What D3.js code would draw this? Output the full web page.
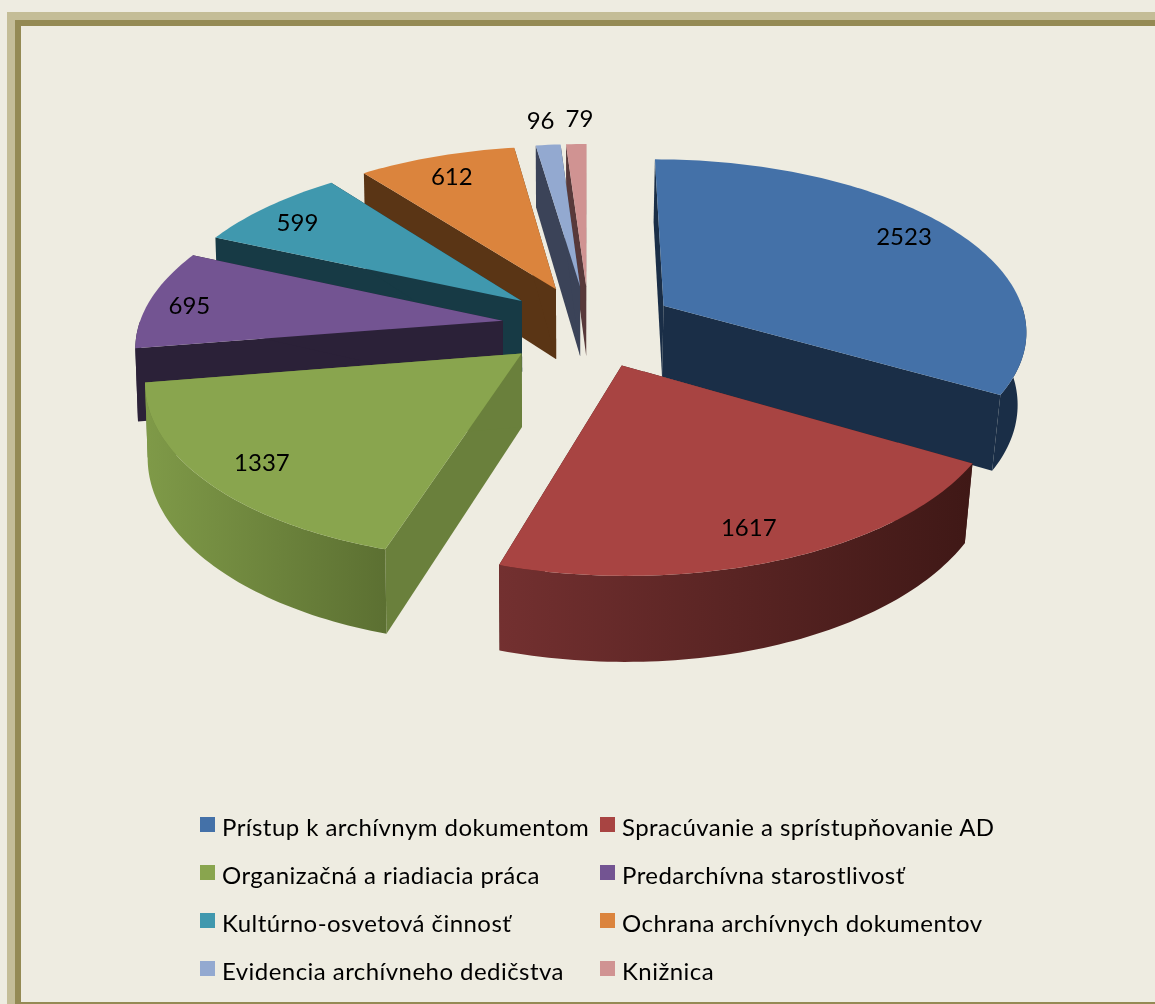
<!DOCTYPE html>
<html>
<head>
<meta charset="utf-8">
<script src="https://cdn.jsdelivr.net/npm/d3@7"></script>
<style>
  html, body { margin: 0; padding: 0; background: #eeece1; }
  svg { display: block; font-family: Lato, "Open Sans", sans-serif; }
  .soft { filter: blur(0.6px); }
</style>
</head>
<body>
<div id="chart"></div>
<script>
const categories = [
  "Prístup k archívnym dokumentom",
  "Spracúvanie a sprístupňovanie AD",
  "Organizačná a riadiacia práca",
  "Predarchívna starostlivosť",
  "Kultúrno-osvetová činnosť",
  "Ochrana archívnych dokumentov",
  "Evidencia archívneho dedičstva",
  "Knižnica"
];
const values = [2523, 1617, 1337, 695, 599, 612, 96, 79];
const topColors = ["#4471a8", "#a84442", "#89a54e", "#735492", "#4098ae", "#db843d", "#93a9d0", "#d09392"];
const cutColors = ["#1a2e47", "#431a18", "#6a803c", "#2b2138", "#173a45", "#5a3515", "#3b4358", "#58393a"];
const rimLeft = ["#1a2e47", "#733030", "#7f9a48", "#2b2138", "#173a45", "#5a3515", "#3b4358", "#58393a"];
const rimRight = ["#1a2e47", "#3f1816", "#5c7032", "#2b2138", "#173a45", "#5a3515", "#3b4358", "#58393a"];

const width = 1155, height = 1004;

// 3d pie geometry, fitted by eye
const cx = 589, cy = 326, rx = 364, ry = 171, persp = 0.133, explode = 0.24, depth = 72;
const shrinkRight = 0.02, shrinkLeft = 0.006;

const svg = d3.select("#chart").append("svg")
  .attr("width", width)
  .attr("height", height);

svg.append("rect").attr("width", width).attr("height", height).attr("fill", "#eeece1");

// frame round the slide
svg.append("path").attr("fill", "#c4bd97").attr("d", `M7 ${height}V12H${width}V20H15V${height}Z`);
svg.append("path").attr("fill", "#948a54").attr("d", `M15 ${height}V20H${width}V26H21V${height}Z`);
svg.append("rect").attr("x", 21).attr("y", 1002).attr("width", width - 21).attr("height", 2).attr("fill", "#948a54");

const defs = svg.append("defs");
const plot = svg.append("g").attr("class", "soft");

function project(x, y, z) {
  const s = 1 / (1 - persp * y);
  // the bottom face is a little narrower than the top one
  const shrink = x > 0 ? shrinkRight : shrinkLeft;
  return [cx + rx * x * s * (1 - shrink * z), cy + ry * y * s + depth * z * s];
}

const slices = d3.pie().sort(null).value(d => d)(values).map((d, i) => {
  const mid = (d.startAngle + d.endAngle) / 2;
  return {
    i,
    value: d.value,
    start: d.startAngle,
    end: d.endAngle,
    mid,
    ox: explode * Math.sin(mid),
    oy: -explode * Math.cos(mid)
  };
});

function pt(s, a, r, z) {
  return project(s.ox + r * Math.sin(a), s.oy - r * Math.cos(a), z);
}

function arcPoints(s, a0, a1, z) {
  const n = Math.max(2, Math.ceil((a1 - a0) / 0.02));
  return d3.range(n + 1).map(k => pt(s, a0 + (a1 - a0) * k / n, 1, z));
}

const line = d3.line();
const closed = pts => line(pts) + "Z";

// far slices first so the near ones cover them
const order = slices.slice().sort((a, b) => (-Math.cos(a.mid)) - (-Math.cos(b.mid)));

order.forEach(s => {
  const g = plot.append("g").attr("class", "slice");
  const apexTop = pt(s, 0, 0, 0), apexBottom = pt(s, 0, 0, 1);

  [s.start, s.end].forEach(a => {
    g.append("path")
      .attr("d", closed([apexTop, pt(s, a, 1, 0), pt(s, a, 1, 1), apexBottom]))
      .attr("fill", cutColors[s.i]);
  });

  // outer rim, only the part facing the viewer
  const a0 = Math.max(s.start, Math.PI / 2), a1 = Math.min(s.end, Math.PI * 1.5);
  if (a1 > a0) {
    const top = arcPoints(s, a0, a1, 0), bottom = arcPoints(s, a0, a1, 1);
    const xs = top.map(p => p[0]);
    const gradId = "rim" + s.i;
    const grad = defs.append("linearGradient")
      .attr("id", gradId)
      .attr("gradientUnits", "userSpaceOnUse")
      .attr("x1", d3.min(xs)).attr("x2", d3.max(xs))
      .attr("y1", 0).attr("y2", 0);
    grad.append("stop").attr("offset", 0).attr("stop-color", rimLeft[s.i]);
    grad.append("stop").attr("offset", 1).attr("stop-color", rimRight[s.i]);
    g.append("path")
      .attr("d", closed(top.concat(bottom.reverse())))
      .attr("fill", `url(#${gradId})`);
  }

  g.append("path")
    .attr("d", closed([apexTop].concat(arcPoints(s, s.start, s.end, 0))))
    .attr("fill", topColors[s.i]);
});

// value labels sit inside the slices, the two thin ones above them
const labelRadius = [0.84, 0.85, 0.85, 0.88, 0.84, 0.84, 1.2, 1.21];
const labelNudgeX = [-3, -7, 4, -3, -8, -2, -2, 5];
const labelNudgeY = [-4, 0, 1, 3, 1, 0, 0, 0];
slices.forEach(s => {
  const p = pt(s, s.mid, labelRadius[s.i], 0);
  plot.append("text")
    .attr("x", p[0] + labelNudgeX[s.i])
    .attr("y", p[1] + 9 + labelNudgeY[s.i])
    .attr("text-anchor", "middle")
    .attr("font-size", 24)
    .attr("fill", "#000")
    .text(s.value);
});

// legend, two columns
const legendX = d3.scalePoint().domain([0, 1]).range([200, 600]);
const legendY = d3.scalePoint().domain([0, 1, 2, 3]).range([817, 961]);
const legend = plot.append("g").selectAll("g")
  .data(categories)
  .enter().append("g")
  .attr("transform", (d, i) => `translate(${legendX(i % 2)},${legendY(Math.floor(i / 2))})`);

legend.append("rect")
  .attr("width", 15).attr("height", 15)
  .attr("fill", (d, i) => topColors[i]);

legend.append("text")
  .attr("x", 22).attr("y", 19)
  .attr("font-size", 24)
  .attr("letter-spacing", 0.45)
  .attr("fill", "#000")
  .text(d => d);
</script>
</body>
</html>
